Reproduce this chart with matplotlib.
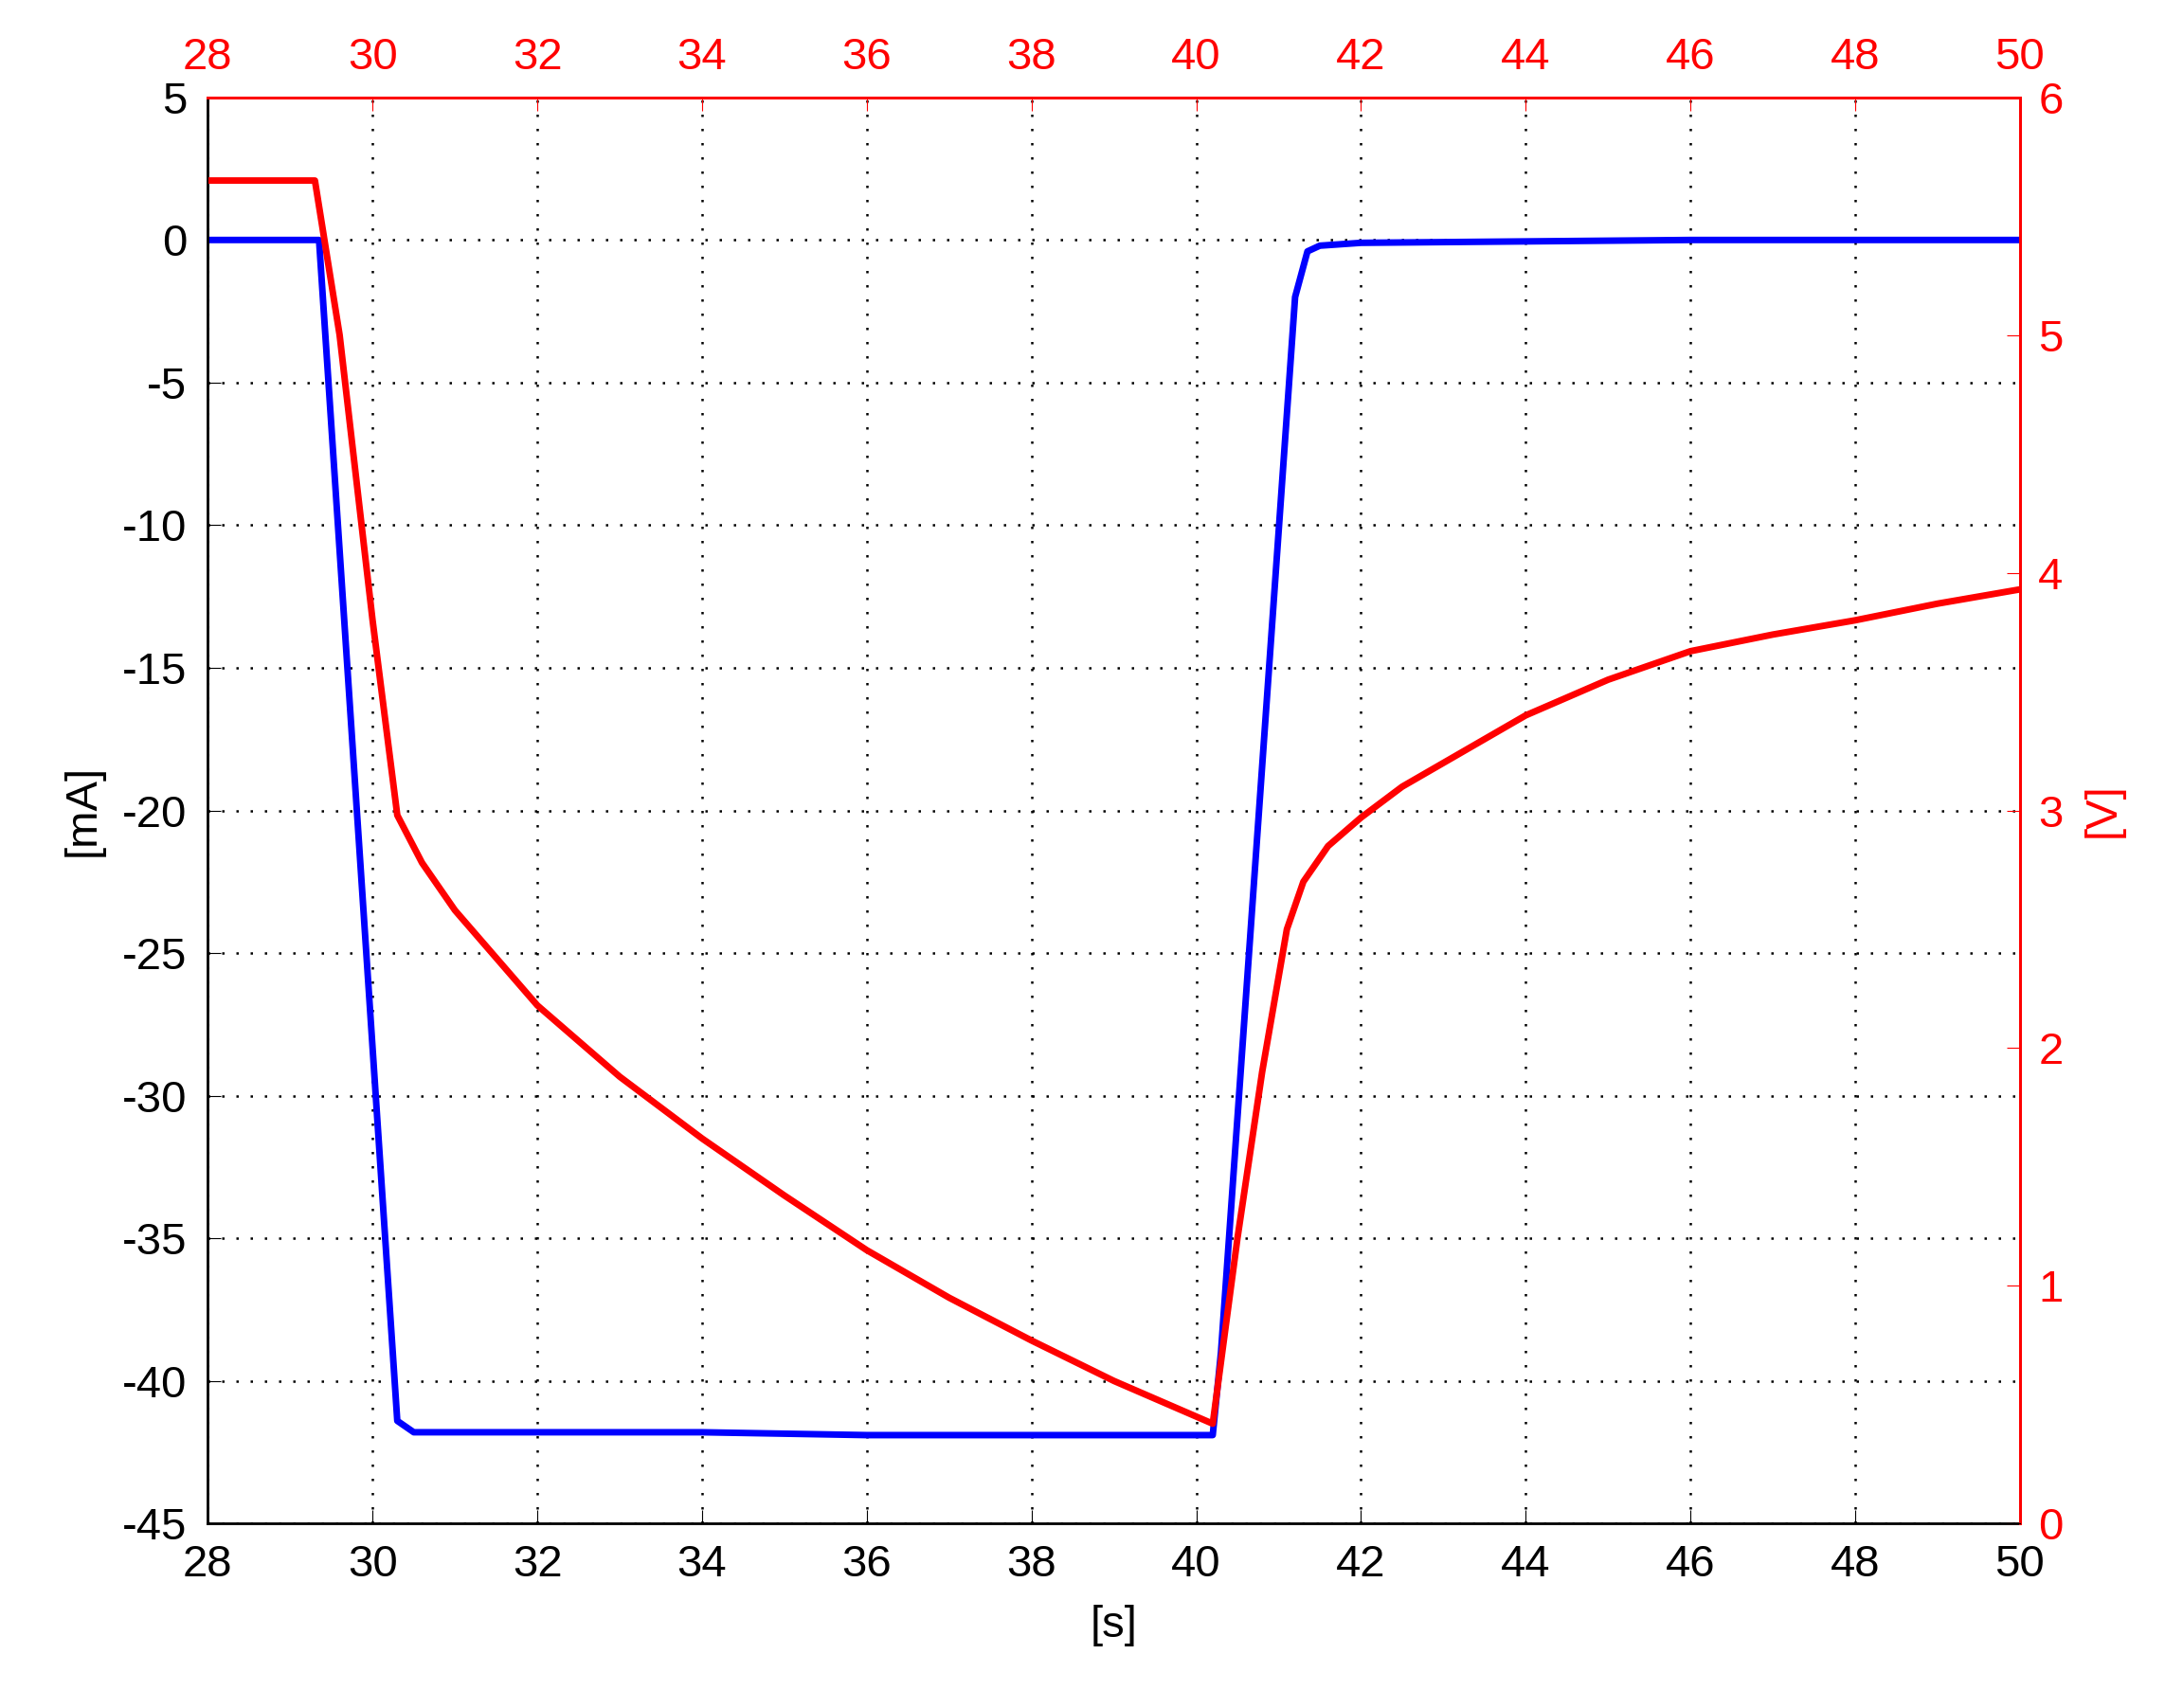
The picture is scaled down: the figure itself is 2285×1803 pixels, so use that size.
import matplotlib
matplotlib.use("Agg")
import matplotlib.pyplot as plt

plt.rcParams['font.family'] = ['Liberation Sans', 'DejaVu Sans']
plt.rcParams['axes.unicode_minus'] = False

t_cur = [28, 29.35, 30.3, 30.5, 31, 34, 36, 38, 40.2, 40.3, 41.2, 41.35, 41.5, 42, 46, 50]
i_cur = [0, 0, -41.4, -41.8, -41.8, -41.8, -41.9, -41.9, -41.9, -39, -2, -0.4, -0.2, -0.1, 0, 0]

t_v = [28, 29.3, 29.6, 30.0, 30.3, 30.6, 31, 32, 33, 34, 35, 36, 37, 38, 39, 40.2,
       40.5, 40.8, 41.1, 41.3, 41.6, 42, 42.5, 43, 44, 45, 46, 47, 48, 49, 50]
v_v = [5.65, 5.65, 5.0, 3.8, 2.98, 2.78, 2.58, 2.18, 1.88, 1.62, 1.38, 1.15, 0.95, 0.77, 0.6, 0.42,
       1.2, 1.9, 2.5, 2.7, 2.85, 2.97, 3.1, 3.2, 3.4, 3.55, 3.67, 3.74, 3.8, 3.87, 3.93]

fig = plt.figure(figsize=(22.85, 18.03), dpi=100)
ax = fig.add_axes([0.096, 0.108, 0.837, 0.835])
ax.plot(t_cur, i_cur, color='blue', lw=5)
ax.set_xlim(28, 50)
ax.set_ylim(-45, 5)
ax.set_xticks(range(28, 51, 2))
ax.set_yticks(range(-45, 6, 5))
ax.set_xlabel('[s]', fontsize=34, labelpad=14)
ax.set_ylabel('[mA]', fontsize=34, labelpad=14)
ax.tick_params(labelsize=34, direction='in', length=10, pad=16)
ax.grid(True, color='black', linestyle=(0, (1, 5)), lw=1.8)
for s in ax.spines.values():
    s.set_linewidth(2)

ax2 = ax.twinx()
ax3 = ax2.twiny()
ax3.plot(t_v, v_v, color='red', lw=5)
ax3.set_xlim(28, 50)
ax2.set_ylim(0, 6)
ax3.set_xticks(range(28, 51, 2))
ax2.set_yticks(range(0, 7))
ax2.set_ylabel('[V]', fontsize=34, color='red', labelpad=14)
ax2.tick_params(labelsize=34, colors='red', direction='in', length=10, pad=14)
ax3.tick_params(labelsize=34, colors='red', direction='in', length=10, pad=14)
for a in (ax2, ax3):
    a.spines['right'].set_color('red')
    a.spines['top'].set_color('red')
    a.spines['right'].set_linewidth(2)
    a.spines['top'].set_linewidth(2)

fig.savefig('out.png', dpi=100)
